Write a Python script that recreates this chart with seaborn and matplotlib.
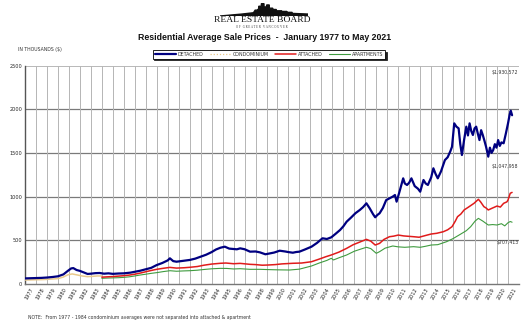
import numpy as np
import pandas as pd
import matplotlib
matplotlib.use("Agg")
import matplotlib.pyplot as plt
from matplotlib.lines import Line2D
import seaborn as sns

# ---------------- data (thousands of $) ----------------
det_t = [1977.0, 1977.5, 1978.0, 1978.5, 1979.0, 1979.5, 1980.0, 1980.5, 1980.9, 1981.2, 1981.4, 1981.7,
         1982.0, 1982.4, 1982.7, 1983.0, 1983.4, 1983.8, 1984.2, 1984.6, 1985.0, 1985.5, 1986.0, 1986.6,
         1987.0, 1987.5, 1988.0, 1988.5, 1989.0, 1989.5, 1990.0, 1990.2, 1990.5, 1990.8, 1991.2, 1991.6,
         1992.0, 1992.5, 1993.0, 1993.5, 1994.0, 1994.4, 1994.8, 1995.2, 1995.6, 1996.0, 1996.3, 1996.6,
         1997.0, 1997.5, 1998.0, 1998.4, 1998.9, 1999.3, 1999.7, 2000.2, 2000.7, 2001.0, 2001.4, 2001.7,
         2002.0, 2002.5, 2003.1, 2003.6, 2004.1, 2004.5, 2004.9, 2005.3, 2005.7, 2006.0, 2006.3, 2006.7,
         2007.1, 2007.5, 2007.8, 2008.1, 2008.4, 2008.7, 2008.9, 2009.1, 2009.3, 2009.6, 2009.9, 2010.2,
         2010.5, 2010.7, 2010.85, 2011.1, 2011.45, 2011.6, 2011.8, 2012.0, 2012.2, 2012.5, 2012.8, 2013.0,
         2013.3, 2013.5, 2013.7, 2014.0, 2014.2, 2014.4, 2014.6, 2014.9, 2015.25, 2015.5, 2015.75, 2015.9,
         2016.1, 2016.3, 2016.5, 2016.65, 2016.8, 2017.0, 2017.2, 2017.35, 2017.5, 2017.65, 2017.8, 2017.95,
         2018.1, 2018.25, 2018.4, 2018.55, 2018.7, 2018.85, 2019.0, 2019.2, 2019.35, 2019.5, 2019.65, 2019.8,
         2019.95, 2020.1, 2020.25, 2020.4, 2020.6, 2020.8, 2021.0, 2021.15, 2021.25, 2021.37]
det_v = [64, 66, 68, 70, 74, 80, 88, 110, 150, 178, 182, 160,
         150, 130, 115, 118, 124, 126, 118, 122, 116, 120, 122, 130,
         140, 152, 168, 185, 217, 240, 270, 294, 262, 255, 262, 270,
         275, 290, 312, 335, 365, 395, 415, 427, 405, 400, 397, 408,
         398, 370, 372, 362, 340, 350, 360, 381, 372, 365, 358, 366,
         370, 395, 427, 470, 523, 515, 534, 575, 618, 660, 713, 760,
         810, 847, 880, 923, 866, 800, 763, 790, 809, 870, 960, 980,
         1000, 1018, 942, 1050, 1209, 1150, 1133, 1160, 1209, 1120, 1090, 1056,
         1190, 1150, 1133, 1220, 1324, 1260, 1209, 1290, 1418, 1450, 1520, 1571,
         1838, 1800, 1781, 1600, 1476, 1650, 1800, 1700, 1838, 1750, 1705, 1780,
         1800, 1720, 1647, 1760, 1705, 1640, 1570, 1457, 1560, 1500, 1533, 1600,
         1560, 1647, 1580, 1620, 1610, 1720, 1838, 1940, 1983, 1931]

con_t = [1977.0, 1977.5, 1978.0, 1978.5, 1979.0, 1979.5, 1980.0, 1980.5, 1980.9, 1981.3, 1981.7,
         1982.2, 1982.7, 1983.2, 1983.6, 1984.0]
con_v = [46, 47, 49, 50, 53, 57, 62, 80, 105, 115, 105, 92, 84, 88, 92, 92]

att_t = [1984.0, 1984.5, 1985.0, 1985.5, 1986.0, 1986.5, 1987.0, 1987.5, 1988.0, 1988.5, 1989.0, 1989.5,
         1990.2, 1990.8, 1991.5, 1992.0, 1992.7, 1993.3, 1994.0, 1994.8, 1995.3, 1996.0, 1996.6, 1997.5,
         1998.0, 1998.6, 1999.1, 1999.8, 2000.4, 2001.4, 2002.2, 2003.1, 2003.8, 2004.4, 2004.9, 2005.6,
         2006.3, 2006.9, 2007.5, 2008.1, 2008.5, 2008.9, 2009.3, 2009.7, 2010.2, 2010.6, 2011.0, 2011.5,
         2012.0, 2012.4, 2012.9, 2013.4, 2014.0, 2014.5, 2015.1, 2015.5, 2015.9, 2016.2, 2016.4, 2016.7,
         2017.0, 2017.4, 2017.9, 2018.3, 2018.5, 2018.8, 2019.0, 2019.2, 2019.6, 2020.0, 2020.3, 2020.6,
         2020.9, 2021.0, 2021.2, 2021.37]
att_v = [78, 82, 85, 90, 95, 102, 112, 125, 140, 155, 168, 178,
         190, 182, 186, 191, 200, 215, 228, 237, 240, 232, 236, 225,
         222, 215, 217, 222, 230, 237, 240, 255, 285, 312, 332, 365,
         408, 450, 480, 511, 490, 446, 465, 510, 541, 548, 560, 550,
         545, 541, 535, 552, 572, 580, 598, 620, 656, 720, 770, 800,
         847, 880, 923, 969, 940, 885, 870, 847, 870, 892, 880, 923,
         940, 961, 1038, 1048]

apt_t = [1984.0, 1984.5, 1985.0, 1985.5, 1986.0, 1986.5, 1987.0, 1987.5, 1988.0, 1988.5, 1989.0, 1989.6,
         1990.2, 1990.8, 1991.5, 1992.0, 1992.7, 1993.3, 1994.0, 1994.8, 1995.4, 1996.0, 1996.6, 1997.5,
         1998.4, 1999.1, 2000.0, 2001.1, 2002.0, 2003.1, 2003.8, 2004.5, 2004.9, 2005.1, 2005.6, 2006.3,
         2007.0, 2007.6, 2008.1, 2008.5, 2009.0, 2009.3, 2009.8, 2010.5, 2011.0, 2011.6, 2012.4, 2013.0,
         2013.5, 2014.0, 2014.6, 2015.4, 2016.0, 2016.7, 2017.2, 2017.6, 2018.0, 2018.3, 2018.7, 2019.2,
         2019.6, 2020.0, 2020.4, 2020.7, 2021.0, 2021.2, 2021.37]
apt_v = [65, 68, 70, 72, 76, 82, 92, 103, 112, 122, 130, 142,
         152, 146, 150, 152, 158, 166, 174, 179, 178, 172, 175, 168,
         168, 165, 162, 160, 170, 206, 240, 270, 294, 275, 300, 332,
         375, 400, 420, 405, 351, 370, 410, 435, 425, 420, 427, 420,
         432, 446, 450, 484, 520, 572, 610, 656, 720, 751, 720, 675,
         680, 675, 690, 665, 701, 715, 707]

years = list(range(1977, 2022))
yticks = [0, 500, 1000, 1500, 2000, 2500]
end_labels = ["$1,930,572", "$1,047,958", "$707,413"]
series_names = ["DETACHED", "CONDOMINIUM", "ATTACHED", "APARTMENTS"]

# ---------------- figure ----------------
sns.set_style("white")
plt.rcParams['font.family'] = ['DejaVu Sans']
fig = plt.figure(figsize=(5.31, 3.26), dpi=100)
ax = fig.add_axes([25/531, 1-284/326, 494/531, (284-65.5)/326])

# grid
for y in yticks[1:-1]:
    ax.axhline(y, color="#7a7a7a", lw=0.9, zorder=1)
ax.axhline(2500, color="#b8b8b8", lw=0.7, zorder=1)
for yr in years[1:] + [2022]:
    ax.axvline(yr, color="#b5b5b5", lw=0.7, zorder=1)

colors = {"DETACHED": "#000080", "CONDOMINIUM": "#e9c98c",
          "ATTACHED": "#e01b1b", "APARTMENTS": "#3f9b3f"}
sns.lineplot(x=con_t, y=con_v, ax=ax, color=colors["CONDOMINIUM"], lw=1.1, zorder=3)
sns.lineplot(x=apt_t, y=apt_v, ax=ax, color=colors["APARTMENTS"], lw=0.8, zorder=4)
sns.lineplot(x=att_t, y=att_v, ax=ax, color=colors["ATTACHED"], lw=1.1, zorder=5)
sns.lineplot(x=det_t, y=det_v, ax=ax, color=colors["DETACHED"], lw=1.6, zorder=6)

ax.set_xlim(1977, 2022)
ax.set_ylim(0, 2500)
ax.set_yticks(yticks)
ax.set_yticklabels([str(v) for v in yticks], fontsize=3.6)
ax.set_xticks([y + 0.5 for y in years])
ax.set_xticklabels([str(y) for y in years], fontsize=3.6, rotation=60,
                   ha="right", rotation_mode="anchor")
ax.tick_params(axis="both", length=0, pad=2)
ax.set_xlabel("")
ax.set_ylabel("")
for s in ["top", "right"]:
    ax.spines[s].set_visible(False)
ax.spines["left"].set_color("#555555")
ax.spines["left"].set_linewidth(1.0)
ax.spines["bottom"].set_color("#777777")
ax.spines["bottom"].set_linewidth(1.0)

# end value labels
ax.text(2021.95, 2425, end_labels[0], fontsize=3.3, ha="right", va="center", color="#333333")
ax.text(2021.95, 1350, end_labels[1], fontsize=3.3, ha="right", va="center", color="#333333")
ax.text(2021.95, 470, end_labels[2], fontsize=3.3, ha="right", va="center", color="#333333")

# texts
fig.text(18/531, 1-50/326, "IN THOUSANDS ($)", fontsize=3.3, ha="left", va="center", color="#333333")
fig.text(28/531, 1-318/326,
         "NOTE:  From 1977 - 1984 condominium averages were not separated into attached & apartment",
         fontsize=3.3, ha="left", va="center", color="#333333")
fig.text(265/531, 1-38/326, "Residential Average Sale Prices  -  January 1977 to May 2021",
         fontsize=6.3, fontweight="bold", family="Liberation Sans",
         ha="center", va="center", color="#111111")

# logo
fig.text(262/531, 1-20/326, "REAL ESTATE BOARD", fontsize=6.8, family="Liberation Serif",
         ha="center", va="center", color="#111111")
fig.text(262/531, 1-26.5/326, "O F   G R E A T E R   V A N C O U V E R", fontsize=2.2,
         family="Liberation Serif", ha="center", va="center", color="#333333")
lax = fig.add_axes([220/531, 1-16/326, 88/531, 13/326])
lax.set_xlim(0, 1); lax.set_ylim(0, 1); lax.axis("off")
sx = [0.0, 0.25, 0.38, 0.40, 0.42, 0.44, 0.44, 0.47, 0.47, 0.50, 0.50, 0.53, 0.53, 0.56, 0.56, 0.60,
      0.60, 0.64, 0.64, 0.70, 0.70, 0.76, 0.76, 0.82, 0.82, 1.0, 1.0, 0.0]
sy = [0.0, 0.15, 0.25, 0.45, 0.45, 0.55, 0.75, 0.75, 0.95, 0.95, 0.7, 0.7, 0.85, 0.85, 0.6, 0.6,
      0.5, 0.5, 0.4, 0.4, 0.35, 0.35, 0.28, 0.28, 0.2, 0.15, 0.0, 0.0]
lax.fill(sx, sy, color="#111111")

# legend
handles = [Line2D([], [], color=colors["DETACHED"], lw=1.6),
           Line2D([], [], color=colors["CONDOMINIUM"], lw=0.9, ls=(0, (1, 1.5))),
           Line2D([], [], color=colors["ATTACHED"], lw=1.1),
           Line2D([], [], color=colors["APARTMENTS"], lw=0.8)]
leg = fig.legend(handles, series_names, loc="center", bbox_to_anchor=(269/531, 1-54.5/326),
                 ncol=4, fontsize=3.4, frameon=True, fancybox=False, shadow={"ox": 1, "oy": -1, "color": "#222222", "alpha": 1},
                 handlelength=4.5, handletextpad=0.3, columnspacing=1.4,
                 borderpad=0.4, edgecolor="#000000")
leg.get_frame().set_linewidth(0.6)
for t in leg.get_texts():
    t.set_color("#333333")

fig.savefig("out.png", dpi=100)
